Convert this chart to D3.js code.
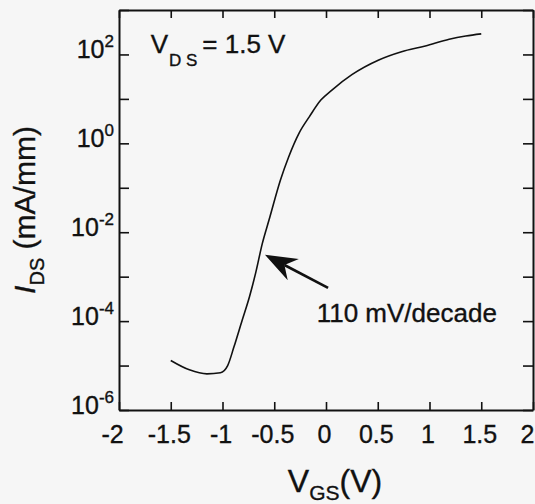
<!DOCTYPE html>
<html>
<head>
<meta charset="utf-8">
<script src="https://cdn.jsdelivr.net/npm/d3@7"></script>
<style>
  html, body { margin: 0; padding: 0; background: #f6f6f6; }
  svg { display: block; font-family: "Liberation Sans", Arial, Helvetica, sans-serif; }
  .axis line, .axis path { stroke: #111; }
  text { stroke: #111; stroke-width: 0.35; }
</style>
</head>
<body>
<div id="chart"></div>
<script>
// ---- data ----
// gate voltage (V)
const vgs = [-1.5, -1.32, -1.15, -1.02, -0.95, -0.89, -0.81, -0.74, -0.68, -0.615,
             -0.55, -0.44, -0.36, -0.26, -0.16, -0.05, 0.06, 0.25, 0.51, 0.73,
             0.96, 1.19, 1.35, 1.5];
// drain current (mA/mm)
const ids = [1.3e-5, 8e-6, 6.5e-6, 6.9e-6, 1.0e-5, 2.6e-5, 1.05e-4, 3.5e-4, 1.2e-3, 5.6e-3,
             1.9e-2, 0.15, 0.5, 1.7, 4.0, 9.4, 16, 35, 75, 115,
             155, 220, 260, 290];

const xTicks = [-2, -1.5, -1, -0.5, 0, 0.5, 1, 1.5, 2];
const yDecades = [-6, -5, -4, -3, -2, -1, 0, 1, 2, 3];
const yLabelExps = [-6, -4, -2, 0, 2];

// annotations, in data units
const arrowTip = [-0.59, 3.1e-3];
const arrowTail = [0.02, 5.6e-4];
const slopeText = { v: -0.09, i: 9.8e-5, label: "110 mV/decade" };
const vdsText = { v: -1.694, i: 107 };

// ---- layout ----
const W = 535, H = 504;
const margin = { top: 10, right: 2, bottom: 94, left: 119 };

const svg = d3.select("#chart").append("svg")
    .attr("width", W).attr("height", H);

svg.append("rect").attr("width", W).attr("height", H).attr("fill", "#f6f6f6");

const x = d3.scaleLinear().domain([-2, 2]).range([margin.left, W - margin.right]);
const y = d3.scaleLog().domain([1e-6, 1e3]).range([H - margin.bottom, margin.top]);

const fmtX = d => String(d);   // plain hyphen minus like the original

// bottom axis with inward ticks
const gx = svg.append("g").attr("class", "axis")
    .attr("transform", `translate(0,${y.range()[0]})`)
    .call(d3.axisBottom(x).tickValues(xTicks).tickSize(-8).tickSizeOuter(0).tickFormat(fmtX));
gx.selectAll("text")
    .attr("y", 33).attr("dy", null)
    .attr("dx", d => d === -2 ? -7 : d === 2 ? -6 : -2)
    .attr("font-size", 25).attr("fill", "#111");

// top axis, ticks only
svg.append("g").attr("class", "axis")
    .attr("transform", `translate(0,${y.range()[1]})`)
    .call(d3.axisTop(x).tickValues(xTicks).tickSize(-8).tickSizeOuter(0).tickFormat(""));

// left axis, a tick every decade
svg.append("g").attr("class", "axis")
    .attr("transform", `translate(${x.range()[0]},0)`)
    .call(d3.axisLeft(y).tickValues(yDecades.map(e => Math.pow(10, e)))
        .tickSize(-10).tickSizeOuter(0).tickFormat(""));

// right axis
svg.append("g").attr("class", "axis")
    .attr("transform", `translate(${x.range()[1]},0)`)
    .call(d3.axisRight(y).tickValues(yDecades.map(e => Math.pow(10, e)))
        .tickSize(-10).tickSizeOuter(0).tickFormat(""));

svg.selectAll(".axis path").attr("stroke-width", 2);
svg.selectAll(".axis line").attr("stroke-width", 1.6);

// y tick labels as 10^n
const yl = svg.append("g").attr("fill", "#111");
yLabelExps.forEach(e => {
    const t = yl.append("text")
        .attr("x", x.range()[0] - 5)
        .attr("y", y(Math.pow(10, e)) + 4)
        .attr("text-anchor", "end")
        .attr("font-size", 25);
    t.append("tspan").text("10");
    t.append("tspan").attr("dy", -11).attr("font-size", 17).text(String(e));
});

// curve
const line = d3.line()
    .x(d => x(d[0]))
    .y(d => y(d[1]))
    .curve(d3.curveMonotoneX);

svg.append("path")
    .datum(d3.zip(vgs, ids))
    .attr("fill", "none")
    .attr("stroke", "#111")
    .attr("stroke-width", 1.6)
    .attr("d", line);

// arrow
const tip = [x(arrowTip[0]), y(arrowTip[1])];
const tail = [x(arrowTail[0]), y(arrowTail[1])];
const dx = tail[0] - tip[0], dy = tail[1] - tip[1];
const len = Math.hypot(dx, dy);
const ux = dx / len, uy = dy / len, px = -uy, py = ux;
const headLen = 32, halfW = 12, notch = 22;
const b1 = [tip[0] + ux * headLen + px * halfW, tip[1] + uy * headLen + py * halfW];
const b2 = [tip[0] + ux * headLen - px * halfW, tip[1] + uy * headLen - py * halfW];
const nt = [tip[0] + ux * notch, tip[1] + uy * notch];

svg.append("line")
    .attr("x1", nt[0]).attr("y1", nt[1])
    .attr("x2", tail[0]).attr("y2", tail[1])
    .attr("stroke", "#111").attr("stroke-width", 2.6);
svg.append("path")
    .attr("d", `M${tip}L${b1}L${nt}L${b2}Z`)
    .attr("fill", "#111");

svg.append("text")
    .attr("x", x(slopeText.v)).attr("y", y(slopeText.i))
    .attr("font-size", 26).attr("fill", "#111")
    .text(slopeText.label);

// V_DS = 1.5 V
const vt = svg.append("text")
    .attr("x", x(vdsText.v)).attr("y", y(vdsText.i))
    .attr("font-size", 26).attr("fill", "#111");
vt.append("tspan").text("V");
vt.append("tspan").attr("dy", 13).attr("dx", 1).attr("font-size", 17).text("D S");
vt.append("tspan").attr("dy", -13).attr("dx", 5).text("= 1.5 V");

// axis titles
const xt = svg.append("text")
    .attr("x", (x.range()[0] + x.range()[1]) / 2 + 9)
    .attr("y", 492)
    .attr("text-anchor", "middle")
    .attr("font-size", 32).attr("fill", "#111");
xt.append("tspan").text("V");
xt.append("tspan").attr("dy", 8).attr("font-size", 21).text("GS");
xt.append("tspan").attr("dy", -8).text("(V)");

const yt = svg.append("text")
    .attr("transform", `translate(35,${(y.range()[0] + y.range()[1]) / 2}) rotate(-90)`)
    .attr("text-anchor", "middle")
    .attr("font-size", 30).attr("fill", "#111");
yt.append("tspan").attr("font-style", "italic").text("I");
yt.append("tspan").attr("dy", 9).attr("font-size", 20).text("DS");
yt.append("tspan").attr("dy", -9).text(" (mA/mm)");
</script>
</body>
</html>
